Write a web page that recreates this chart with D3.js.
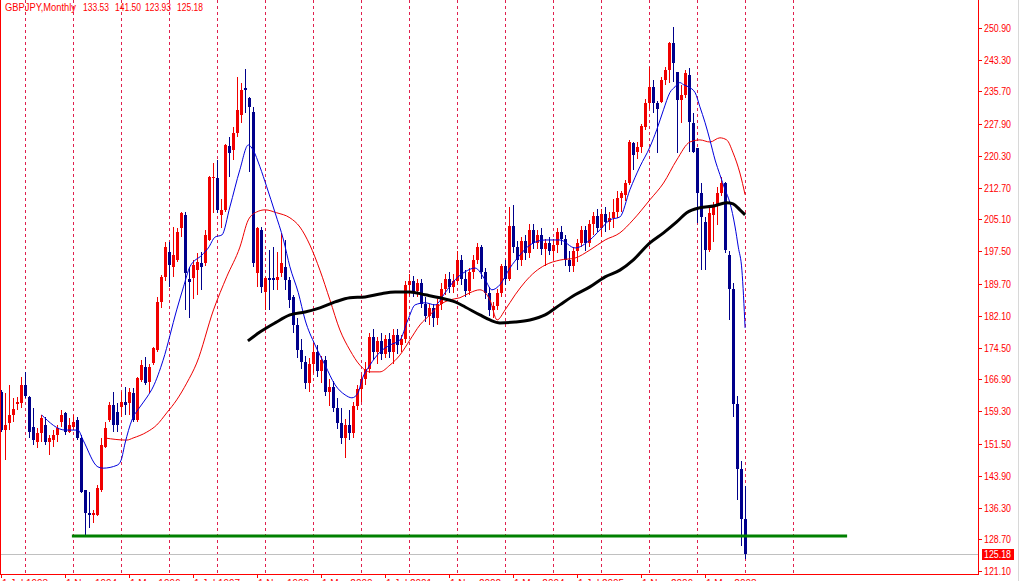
<!DOCTYPE html>
<html><head><meta charset="utf-8">
<script src="https://cdn.jsdelivr.net/npm/d3@7"></script>
<style>html,body{margin:0;padding:0;background:#fff;overflow:hidden}svg{display:block}</style>
</head><body><svg id="c" width="1020" height="581"></svg>
<script>
// ---------------- DATA ----------------
const symbolTitle = "GBPJPY,Monthly";
const lastBar = ["133.53", "141.50", "123.93", "125.18"];
const bidPrice = 125.18;
const firstYear = 1993, firstMonth = 6; // Jul 1993 = bar 0
const monthNames = ["Jan","Feb","Mar","Apr","May","Jun","Jul","Aug","Sep","Oct","Nov","Dec"];

const opens = [163.9,154.8,156.5,158.4,161.0,161.3,165.6,162.7,155.5,151.9,154.1,156.0,151.9,152.4,153.6,156.7,158.9,154.3,155.5,157.2,
152.9,140.5,134.9,134.5,134.5,140.5,150.7,157.2,160.8,159.1,160.3,161.5,161.3,163.6,157.2,166.8,169.8,166.3,170.8,173.9,
185.4,191.4,197.4,193.8,195.4,203.1,206.2,190.9,191.1,193.0,194.7,194.7,200.2,215.0,215.0,206.2,207.4,222.7,221.7,225.8,
230.1,236.6,234.2,230.8,192.3,202.6,187.8,191.1,191.1,190.7,192.3,193.8,190.7,186.6,180.0,174.0,171.0,166.0,170.5,173.5,
169.0,171.5,164.0,165.0,160.0,156.5,153.0,156.0,154.0,160.5,164.5,167.0,169.5,177.0,173.5,176.0,173.0,176.5,173.5,177.5,
175.0,176.5,189.5,190.5,188.0,190.0,185.0,182.0,184.0,181.5,185.0,188.5,191.0,189.0,190.5,195.5,191.0,188.0,192.5,195.5,
198.5,192.5,187.5,183.5,184.5,187.5,194.0,191.0,203.5,198.5,195.5,200.0,197.0,202.5,199.5,201.5,198.0,199.5,197.5,199.0,
202.0,200.5,195.5,194.0,197.5,199.5,202.5,199.5,204.0,206.0,203.0,206.5,204.5,205.5,207.0,210.2,210.9,213.8,223.4,221.2,
222.4,227.2,232.9,236.7,232.9,233.1,238.4,240.8,247.2,240.3,233.6,234.8,239.6,228.1,222.1,211.4,204.5,197.8,206.2,208.5,
211.4,213.8,196.6,188.5,161.0,145.5,133.53];
const highs = [164.3,163.6,165.6,162.5,162.7,167.5,168.7,162.9,160.1,155.3,158.4,157.9,153.6,154.8,156.0,159.6,159.1,157.7,158.4,157.9,
153.6,140.6,140.0,135.7,141.6,152.9,156.7,161.5,163.9,161.3,163.9,165.1,164.8,164.8,167.5,171.5,172.2,170.5,174.6,186.6,
191.8,199.7,199.7,203.3,203.1,206.9,206.9,193.8,195.5,197.1,197.4,202.6,215.6,218.6,219.3,210.0,223.2,224.8,227.3,239.2,
237.8,241.0,234.4,232.0,203.3,203.3,191.4,197.8,198.5,197.4,201.9,200.2,191.4,187.0,181.5,176.5,172.5,172.0,175.5,175.0,
172.5,172.5,167.0,166.5,162.5,160.0,157.5,159.5,161.5,165.5,168.0,171.0,178.0,179.0,177.0,178.0,177.5,178.0,179.0,179.0,
177.5,190.5,192.0,191.5,191.0,191.0,186.5,185.0,185.0,186.0,190.0,192.0,192.5,192.0,197.5,196.5,193.0,193.5,196.5,199.5,
199.0,193.5,189.0,185.5,188.5,194.5,195.5,208.0,208.5,200.0,201.0,201.5,204.0,204.0,202.5,203.0,200.5,201.0,200.5,203.0,
203.5,201.5,197.5,198.5,200.5,203.5,203.5,205.0,207.0,207.5,207.5,208.0,207.0,210.0,212.0,212.0,214.5,224.1,223.6,223.5,
228.0,233.8,241.6,238.4,233.4,239.2,241.6,247.6,251.1,240.3,237.2,240.8,241.3,230.5,222.1,213.8,205.7,208.5,209.3,212.8,
215.2,214.0,197.5,190.0,163.0,147.5,141.50];
const lows = [154.3,147.6,154.8,156.7,159.6,160.1,162.5,152.9,151.2,150.5,151.9,151.2,148.8,150.7,151.9,155.5,153.6,154.1,154.8,152.4,
139.7,129.7,131.4,132.6,134.3,140.0,150.4,156.7,154.3,154.3,158.0,158.4,158.4,156.7,156.7,166.3,165.6,163.6,170.3,173.5,
184.0,190.5,189.0,191.4,195.0,200.9,183.5,181.5,186.0,187.0,188.3,194.0,200.0,206.7,206.7,203.0,207.0,215.3,219.3,224.8,
228.2,230.6,216.5,193.8,189.0,187.6,183.5,183.5,188.3,188.3,191.4,188.3,184.0,178.0,172.0,169.5,164.5,164.0,168.5,167.5,
166.0,163.0,160.5,159.0,155.0,151.5,148.1,152.5,153.0,159.5,161.5,165.5,168.5,171.5,170.5,171.5,172.0,172.0,170.5,173.0,
173.5,175.5,187.0,186.5,186.5,184.0,180.5,180.0,179.5,180.0,183.5,187.0,187.5,187.5,189.5,189.5,186.5,187.0,191.0,194.5,
191.0,186.0,182.0,181.5,183.5,186.5,189.5,190.5,197.0,193.0,194.0,195.5,196.0,198.0,198.0,196.5,194.0,196.5,195.5,197.0,
199.0,194.0,192.5,192.5,195.0,198.5,197.5,198.5,201.5,202.0,201.0,202.0,202.5,203.0,205.5,207.0,209.5,213.3,216.9,219.5,
221.0,226.5,231.4,230.5,220.9,232.9,237.2,237.7,238.0,220.9,228.1,234.1,221.2,221.0,204.3,193.0,193.0,197.3,199.8,203.8,
210.7,197.0,181.0,158.0,138.0,127.0,123.93];
const closes = [154.8,156.0,158.4,159.8,161.4,165.6,162.9,154.3,152.4,154.1,157.7,151.9,152.9,153.6,155.3,158.4,154.3,156.0,156.7,152.9,
140.0,134.9,134.5,134.9,140.9,151.2,155.3,160.8,156.0,156.0,161.5,160.8,163.9,157.2,167.2,170.3,166.1,169.8,174.4,185.4,
191.4,198.5,194.2,196.6,202.1,206.7,192.3,190.2,194.2,195.0,193.8,201.4,215.3,215.3,207.4,207.4,222.9,221.0,225.8,231.3,
236.1,236.1,232.0,194.7,203.1,189.0,191.1,190.7,190.7,191.4,194.7,190.7,185.9,180.0,174.0,171.0,166.0,170.5,173.5,169.0,
171.5,164.0,165.0,160.0,156.5,153.0,156.0,154.0,160.5,164.5,167.0,169.5,177.0,173.5,176.0,173.0,176.5,173.5,177.5,175.0,
176.5,189.5,190.5,188.0,190.0,185.0,182.0,184.0,181.5,185.0,188.5,191.0,189.0,190.5,195.5,191.0,188.0,192.5,195.5,198.5,
192.5,187.5,183.5,184.5,187.5,194.0,191.0,203.5,198.5,195.5,200.0,197.0,202.5,199.5,201.5,198.0,199.5,197.5,199.0,202.0,
200.5,195.5,194.0,197.5,199.5,202.5,199.5,204.0,206.0,203.0,206.5,204.5,205.5,207.0,210.2,211.4,213.8,223.6,220.5,222.4,
227.4,232.9,236.7,232.9,231.5,238.4,240.8,247.2,242.5,233.6,234.8,240.1,228.4,221.2,211.4,205.7,197.8,206.6,208.5,211.4,
213.8,197.8,188.5,161.0,145.5,133.5,125.18];

// moving averages: [bar index, price]
const maFast = [[10.05,158.4],[15.9,154.8],[19.1,154.8],[20.4,152.4],[24.1,146.0],[25.4,145.7],[28.9,146.4],[29.9,147.6],[30.9,151.7],
[32.6,157.2],[34.6,160.3],[36.4,162.7],[37.9,165.1],[40.4,171.5],[43.8,183.5],[45.5,189.0],[47.1,193.8],[50.1,196.6],[51.7,198.3],
[53.4,200.9],[55.1,201.4],[57.1,208.1],[59.6,217.0],[61.7,222.9],[62.9,221.7],[64.6,217.7],[66.3,212.9],[68.4,206.7],[70.5,200.2],
[72.1,193.8],[74.2,187.6],[75.9,181.1],[78.4,175.1],[80.9,170.3],[83.4,165.6],[85.9,163.2],[87.6,162.5],[89.1,163.6],[90.1,166.8],
[92.1,170.3],[94.6,173.4],[97.1,175.1],[99.6,176.3],[101.6,181.1],[103.4,184.7],[105.9,185.2],[108.4,184.7],[110.9,187.6],[113.4,190.7],
[115.9,192.6],[118.4,193.5],[120.9,190.7],[122.6,188.3],[124.6,189.5],[127.1,193.5],[129.6,196.6],[132.1,199.0],[135.9,200.2],
[139.6,200.2],[143.4,198.3],[147.1,200.2],[149.6,202.6],[152.1,205.0],[154.6,205.7],[157.1,212.2],[159.6,217.7],[162.1,222.4],
[163.8,226.5],[165.5,231.3],[167.1,235.4],[168.4,236.8],[169.6,237.8],[170.5,237.3],[171.7,236.8],[173.4,235.4],[174.6,232.0],
[175.9,228.2],[177.1,224.1],[178.4,219.3],[179.6,215.8],[180.9,212.2],[182.1,209.1],[183.4,203.3],[184.2,198.5],[185.1,193.0],[185.9,179.2]];
const maSlow = [[25.9,152.9],[31.3,152.4],[32.9,152.9],[36.3,154.3],[38.8,156.0],[41.3,158.9],[43.8,162.0],[46.3,166.0],[48.8,170.8],
[53.0,183.5],[56.3,191.4],[59.6,198.5],[61.7,205.0],[63.8,206.9],[65.9,207.4],[68.8,206.7],[72.1,205.5],[74.6,203.3],[77.1,199.0],
[79.6,193.0],[82.1,185.9],[84.6,178.7],[87.1,173.9],[89.6,170.3],[92.1,168.7],[94.6,168.7],[97.1,170.3],[99.6,172.7],[102.1,176.3],
[104.6,179.9],[107.1,182.3],[109.6,184.7],[112.1,185.9],[114.6,186.4],[117.1,187.6],[119.6,188.3],[122.1,185.9],[123.9,181.1],
[125.9,183.5],[128.4,187.1],[130.9,190.2],[133.4,192.6],[135.9,194.2],[139.6,195.4],[143.4,195.9],[147.1,197.8],[150.9,200.2],
[154.6,201.9],[157.9,205.0],[162.1,209.8],[165.5,213.8],[168.8,219.3],[172.1,223.6],[174.6,224.1],[177.1,223.6],[179.6,224.6],
[181.3,224.1],[182.9,221.0],[184.6,216.2],[185.9,211.0]];
const maLong = [[61.6,176.1],[64.6,178.2],[68.4,180.4],[72.1,182.3],[75.9,183.0],[79.6,184.0],[83.4,185.4],[87.1,186.4],[90.9,186.6],
[94.6,187.3],[98.4,187.8],[102.1,187.8],[105.9,187.1],[109.6,186.4],[113.4,185.4],[115.9,184.2],[119.6,182.3],[122.1,181.1],
[124.6,180.4],[128.4,180.6],[132.1,181.1],[135.9,182.3],[139.6,184.7],[143.4,187.1],[147.1,189.0],[150.9,191.4],[154.6,193.0],
[157.9,195.4],[162.1,199.5],[165.5,201.9],[168.8,204.5],[171.3,206.7],[174.6,207.9],[178.0,208.3],[181.3,209.1],[182.9,208.8],
[184.6,207.4],[185.9,206.2]];

// support line (bar range and level)
const supportLine = [17.6, 211.4, 129.5];

const priceTicks = [250.90,243.30,235.70,227.90,220.30,212.70,205.10,197.50,189.70,182.10,174.50,166.90,159.30,151.50,143.90,136.30,128.70,121.10];
const timeTickEvery = 16;

// ---------------- DRAW ----------------
const svg = d3.select("#c");
const plotR = 978, plotB = 574;
const x = d3.scaleLinear().domain([-0.375, 244.125]).range([0, plotR]);
const y = d3.scaleLinear().domain([120.42, 257.52]).range([plotB, 0]);
const RED = "#f00000", NAVY = "#00008b", GRID = "#e0204e", AXIS = "#ff0000";
const FONT = "Liberation Sans, Arial, sans-serif";

svg.append("rect").attr("width",1020).attr("height",581).attr("fill","#fff");

// year grid (January of every year)
const nBars = closes.length;
const gridIdx = d3.range(0, 200).filter(i => (firstMonth + i) % 12 === 0);
svg.append("g").selectAll("line").data(gridIdx).join("line")
  .attr("x1", i => Math.floor(x(i)) + 0.5).attr("x2", i => Math.floor(x(i)) + 0.5)
  .attr("y1", 0).attr("y2", plotB)
  .attr("stroke", GRID).attr("stroke-width", 1).attr("stroke-dasharray", "3,3");

// bid line
svg.append("line").attr("x1",0).attr("x2",plotR).attr("y1",Math.round(y(bidPrice))+0.5).attr("y2",Math.round(y(bidPrice))+0.5)
  .attr("stroke","#c0c0c0").attr("stroke-width",1);

// candles
const bars = d3.range(nBars);
const cg = svg.append("g");
cg.selectAll("rect.wick").data(bars).join("rect").attr("class","wick")
  .attr("x", i => Math.floor(x(i)))
  .attr("width", 1)
  .attr("y", i => Math.round(y(highs[i])))
  .attr("height", i => Math.max(1, Math.round(y(lows[i])) - Math.round(y(highs[i]))))
  .attr("fill", i => closes[i] >= opens[i] ? RED : NAVY);
cg.selectAll("rect.body").data(bars).join("rect").attr("class","body")
  .attr("x", i => Math.floor(x(i)) - 1)
  .attr("width", 3)
  .attr("y", i => Math.round(y(Math.max(opens[i], closes[i]))))
  .attr("height", i => Math.max(1, Math.round(y(Math.min(opens[i], closes[i]))) - Math.round(y(Math.max(opens[i], closes[i])))))
  .attr("fill", i => closes[i] >= opens[i] ? RED : NAVY);

// moving averages
const line = d3.line().x(d => x(d[0])).y(d => y(d[1])).curve(d3.curveMonotoneX);
svg.append("path").datum(maSlow).attr("d", line).attr("fill","none").attr("stroke","#ee0000").attr("stroke-width",1);
svg.append("path").datum(maFast).attr("d", line).attr("fill","none").attr("stroke","#0000dd").attr("stroke-width",1);
svg.append("path").datum(maLong).attr("d", line).attr("fill","none").attr("stroke","#000").attr("stroke-width",3);

// support line
svg.append("line").attr("x1", x(supportLine[0])).attr("x2", x(supportLine[1]))
  .attr("y1", y(supportLine[2])).attr("y2", y(supportLine[2]))
  .attr("stroke","#008000").attr("stroke-width",3);

// axes frame
svg.append("line").attr("x1",0.5).attr("x2",0.5).attr("y1",0).attr("y2",plotB).attr("stroke",AXIS);
svg.append("line").attr("x1",plotR+0.5).attr("x2",plotR+0.5).attr("y1",0).attr("y2",plotB+1).attr("stroke",AXIS);
svg.append("line").attr("x1",0).attr("x2",plotR+1).attr("y1",plotB+0.5).attr("y2",plotB+0.5).attr("stroke",AXIS);
svg.append("line").attr("x1",1018.5).attr("x2",1018.5).attr("y1",0).attr("y2",581).attr("stroke","#d8d8d8");

// price axis
const pa = svg.append("g");
pa.selectAll("line").data(priceTicks).join("line")
  .attr("x1", plotR+1).attr("x2", plotR+4)
  .attr("y1", d => Math.round(y(d))+0.5).attr("y2", d => Math.round(y(d))+0.5).attr("stroke", AXIS);
pa.selectAll("text").data(priceTicks).join("text")
  .attr("x", 984).attr("y", d => Math.round(y(d)) + 4)
  .attr("font-family", FONT).attr("font-size", 10).attr("fill", AXIS)
  .attr("textLength", 27).attr("lengthAdjust","spacingAndGlyphs")
  .text(d => d.toFixed(2));
// bid label
const by = Math.round(y(bidPrice));
svg.append("rect").attr("x", 982).attr("y", by - 5).attr("width", 32).attr("height", 11).attr("fill", AXIS);
svg.append("text").attr("x", 984).attr("y", by + 4).attr("font-family", FONT).attr("font-size", 10).attr("fill", "#fff")
  .attr("textLength", 27).attr("lengthAdjust","spacingAndGlyphs").text(bidPrice.toFixed(2));

// time axis (labels partly below the window edge, as in the reference)
const tIdx = d3.range(0, nBars, timeTickEvery);
const ta = svg.append("g");
ta.selectAll("line").data(tIdx).join("line")
  .attr("x1", i => Math.floor(x(i)) + 0.5).attr("x2", i => Math.floor(x(i)) + 0.5)
  .attr("y1", plotB).attr("y2", plotB + 4).attr("stroke", AXIS);
ta.selectAll("text").data(tIdx).join("text")
  .attr("x", i => Math.floor(x(i)) + 1).attr("y", 587)
  .attr("font-family", FONT).attr("font-size", 10).attr("fill", AXIS)
  .text(i => { const m = firstMonth + i; return "1 " + monthNames[m % 12] + " " + (firstYear + Math.floor(m / 12)); });

// header
const hdr = svg.append("g").attr("font-family", FONT).attr("font-size", 10).attr("fill", AXIS);
hdr.append("text").attr("x", 5).attr("y", 11).attr("textLength", 71).attr("lengthAdjust","spacingAndGlyphs").text(symbolTitle);
const hx = [83, 115, 145, 177];
lastBar.forEach((v, k) => hdr.append("text").attr("x", hx[k]).attr("y", 11)
  .attr("textLength", 26).attr("lengthAdjust","spacingAndGlyphs").text(v));
</script></body></html>
